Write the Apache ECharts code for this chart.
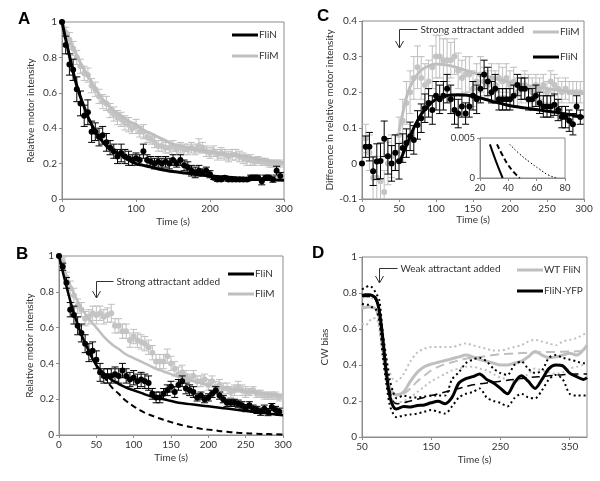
<!DOCTYPE html>
<html><head><meta charset="utf-8">
<script src="https://cdn.jsdelivr.net/npm/echarts@6/dist/echarts.min.js"></script>
<style>html,body{margin:0;padding:0;background:#fff}#c{width:600px;height:481px}</style>
</head><body><div id="c"></div>
<script>
// ---------- time grids ----------
const T5 = [0,5,10,15,20,25,30,35,40,45,50,55,60,65,70,75,80,85,90,95,
  100,105,110,115,120,125,130,135,140,145,150,155,160,165,170,175,180,185,190,195,
  200,205,210,215,220,225,230,235,240,245,250,255,260,265,270,275,280,285,290,295];
const T10 = [0,10,20,30,40,50,60,70,80,90,100,110,120,130,140,150,160,170,180,190,
  200,210,220,230,240,250,260,270,280,290,300];

// ---------- Panel A ----------
const A_FliN = [1.00,0.87,0.76,0.73,0.62,0.54,0.47,0.49,0.38,0.38,
  0.35,0.36,0.32,0.29,0.27,0.24,0.26,0.24,0.23,0.22,
  0.23,0.22,0.27,0.22,0.21,0.20,0.21,0.20,0.21,0.20,
  0.22,0.20,0.22,0.19,0.18,0.16,0.15,0.16,0.15,0.16,
  0.14,0.12,0.11,0.11,0.12,0.11,0.11,0.11,0.11,0.11,
  0.11,0.12,0.12,0.12,0.10,0.12,0.12,0.11,0.16,0.13];
const A_FliN_err = [0,0.05,0.06,0.06,0.07,0.07,0.06,0.07,0.06,0.05,
  0.05,0.05,0.05,0.04,0.04,0.04,0.05,0.04,0.04,0.03,
  0.03,0.03,0.04,0.03,0.03,0.03,0.03,0.03,0.03,0.03,
  0.03,0.02,0.03,0.03,0.03,0.03,0.03,0.03,0.02,0.02,
  0.02,0.01,0.01,0.01,0.01,0.01,0.01,0.01,0.01,0.01,
  0.01,0.015,0.015,0.015,0.02,0.015,0.015,0.015,0.025,0.02];
const A_FliM = [1.00,0.94,0.90,0.85,0.80,0.75,0.71,0.70,0.64,0.62,
  0.58,0.55,0.54,0.50,0.48,0.46,0.45,0.43,0.42,0.40,
  0.41,0.38,0.38,0.35,0.34,0.32,0.30,0.30,0.29,0.29,
  0.30,0.28,0.29,0.28,0.28,0.29,0.28,0.30,0.29,0.27,
  0.26,0.27,0.25,0.26,0.25,0.24,0.25,0.25,0.24,0.23,
  0.22,0.22,0.21,0.22,0.21,0.21,0.20,0.20,0.20,0.20];
const A_FliM_err = [0,0.03,0.04,0.04,0.04,0.04,0.04,0.04,0.04,0.04,
  0.04,0.04,0.04,0.04,0.04,0.04,0.04,0.04,0.04,0.03,
  0.04,0.03,0.04,0.03,0.03,0.03,0.03,0.03,0.03,0.03,
  0.03,0.03,0.03,0.03,0.03,0.03,0.03,0.04,0.03,0.03,
  0.03,0.03,0.03,0.03,0.03,0.03,0.03,0.03,0.03,0.03,
  0.03,0.03,0.02,0.02,0.02,0.02,0.02,0.02,0.02,0.02];
const A_fitN = [1.00,0.81,0.64,0.52,0.42,0.35,0.30,0.27,0.25,0.22,0.20,
  0.19,0.18,0.17,0.162,0.155,0.15,0.145,0.14,0.135,0.13,
  0.127,0.124,0.121,0.118,0.116,0.114,0.112,0.11,0.108,0.106];
const A_fitM = [1.00,0.90,0.81,0.73,0.66,0.59,0.54,0.50,0.47,0.44,0.42,
  0.39,0.37,0.35,0.33,0.31,0.30,0.29,0.28,0.27,0.265,
  0.26,0.255,0.25,0.245,0.24,0.23,0.225,0.215,0.21,0.205];

// ---------- Panel B ----------
const B_FliN = [1.00,0.94,0.85,0.70,0.67,0.61,0.57,0.51,0.46,0.47,
  0.42,0.35,0.33,0.33,0.33,0.34,0.33,0.36,0.33,0.31,
  0.32,0.30,0.31,0.30,0.29,0.23,0.21,0.21,0.23,0.25,
  0.27,0.24,0.28,0.30,0.26,0.25,0.24,0.21,0.22,0.20,
  0.21,0.23,0.25,0.22,0.20,0.18,0.18,0.18,0.175,0.166,
  0.15,0.166,0.147,0.14,0.13,0.147,0.128,0.156,0.14,0.13];
const B_FliN_err = [0,0.02,0.03,0.04,0.05,0.05,0.05,0.05,0.05,0.05,
  0.05,0.05,0.04,0.04,0.04,0.04,0.04,0.04,0.04,0.04,
  0.04,0.04,0.04,0.04,0.04,0.03,0.03,0.03,0.03,0.03,
  0.03,0.03,0.03,0.03,0.03,0.03,0.03,0.02,0.02,0.02,
  0.02,0.02,0.02,0.02,0.02,0.02,0.02,0.02,0.02,0.02,
  0.02,0.02,0.02,0.02,0.02,0.02,0.02,0.02,0.02,0.02];
const B_FliM = [1.00,0.97,0.88,0.82,0.78,0.72,0.70,0.65,0.66,0.68,
  0.67,0.68,0.66,0.67,0.68,0.61,0.61,0.58,0.58,0.53,
  0.55,0.53,0.52,0.51,0.49,0.46,0.41,0.41,0.41,0.44,
  0.40,0.37,0.34,0.35,0.33,0.31,0.33,0.30,0.30,0.31,
  0.28,0.30,0.27,0.28,0.26,0.26,0.24,0.25,0.27,0.25,
  0.24,0.24,0.25,0.23,0.23,0.22,0.22,0.22,0.22,0.21];
const B_FliM_err = [0,0.02,0.03,0.04,0.04,0.04,0.04,0.04,0.04,0.04,
  0.05,0.04,0.04,0.04,0.05,0.04,0.04,0.04,0.04,0.04,
  0.04,0.04,0.04,0.04,0.04,0.04,0.04,0.04,0.04,0.04,
  0.04,0.04,0.04,0.04,0.03,0.03,0.03,0.03,0.03,0.03,
  0.03,0.03,0.03,0.03,0.03,0.03,0.03,0.03,0.03,0.03,
  0.03,0.02,0.02,0.02,0.02,0.02,0.02,0.02,0.02,0.02];
const B_fitN = [1.00,0.83,0.68,0.56,0.47,0.39,0.345,0.31,0.285,0.265,0.25,
  0.235,0.22,0.21,0.20,0.19,0.18,0.175,0.17,0.165,0.16,
  0.155,0.15,0.145,0.14,0.135,0.13,0.125,0.12,0.115,0.11];
const B_dashT = [60,70,80,90,100,110,120,130,140,150,160,170,180,190,200,210,220,230,240,250,260,270,280,290,300];
const B_dashN = [0.33,0.27,0.23,0.19,0.16,0.135,0.115,0.10,0.085,0.072,0.06,0.05,0.042,0.035,0.03,
  0.025,0.02,0.016,0.012,0.01,0.008,0.006,0.005,0.004,0.003];
const B_fitM = [1.00,0.89,0.79,0.71,0.65,0.60,0.55,0.51,0.48,0.45,0.43,
  0.41,0.39,0.37,0.355,0.34,0.325,0.31,0.30,0.29,0.28,
  0.27,0.265,0.26,0.25,0.245,0.24,0.235,0.23,0.225,0.22];

// ---------- Panel C ----------
const C_FliM = [0.00,0.07,0.03,-0.04,-0.04,-0.05,-0.08,0.00,0.02,0.03,
  0.08,0.12,0.17,0.20,0.24,0.27,0.24,0.22,0.23,0.27,
  0.30,0.30,0.29,0.29,0.29,0.30,0.26,0.24,0.25,0.25,
  0.21,0.23,0.25,0.23,0.22,0.24,0.22,0.24,0.23,0.24,
  0.22,0.23,0.20,0.21,0.22,0.21,0.20,0.22,0.21,0.22,
  0.20,0.23,0.22,0.21,0.20,0.21,0.20,0.20,0.20,0.20];
const C_FliM_err = [0,0.04,0.05,0.06,0.06,0.06,0.06,0.06,0.06,0.05,
  0.05,0.06,0.06,0.06,0.06,0.06,0.06,0.06,0.06,0.06,
  0.06,0.06,0.06,0.06,0.05,0.05,0.05,0.05,0.05,0.05,
  0.05,0.05,0.05,0.04,0.04,0.04,0.04,0.04,0.04,0.04,
  0.04,0.04,0.04,0.04,0.04,0.04,0.04,0.03,0.03,0.03,
  0.03,0.03,0.03,0.03,0.03,0.03,0.03,0.03,0.03,0.03];
const C_FliN = [0.00,0.047,0.047,-0.022,0.005,0.007,0.069,0.02,0.00,0.03,
  0.006,0.043,0.057,0.076,0.066,0.108,0.127,0.155,0.17,0.15,
  0.19,0.18,0.19,0.21,0.18,0.15,0.14,0.16,0.14,0.16,
  0.19,0.18,0.21,0.25,0.23,0.20,0.21,0.18,0.18,0.18,
  0.18,0.19,0.22,0.21,0.21,0.18,0.18,0.19,0.17,0.16,
  0.16,0.16,0.165,0.15,0.13,0.13,0.12,0.11,0.16,0.13];
const C_FliN_err = [0,0.03,0.04,0.04,0.05,0.05,0.05,0.05,0.05,0.05,
  0.05,0.04,0.04,0.04,0.04,0.04,0.04,0.04,0.04,0.04,
  0.04,0.04,0.04,0.04,0.04,0.04,0.04,0.03,0.03,0.03,
  0.04,0.04,0.04,0.04,0.04,0.03,0.04,0.03,0.03,0.03,
  0.03,0.03,0.03,0.03,0.03,0.03,0.03,0.03,0.03,0.03,
  0.03,0.03,0.03,0.03,0.03,0.03,0.03,0.03,0.03,0.02];
const C_fitT = [50,55,60,65,70,75,80,90,100,110,120,130,140,150,160,170,180,190,200,220,240,260,280,300];
const C_fitM = [0.09,0.14,0.185,0.215,0.235,0.25,0.262,0.274,0.279,0.278,0.274,0.268,
  0.261,0.255,0.249,0.243,0.238,0.233,0.228,0.22,0.213,0.207,0.201,0.196];
const C_fitN = [0.00,0.025,0.05,0.075,0.10,0.12,0.138,0.163,0.18,0.188,0.192,0.193,
  0.192,0.19,0.184,0.178,0.172,0.167,0.162,0.156,0.15,0.144,0.137,0.13];
// inset
const I_solidT = [27,30,33,36];
const I_solid = [0.0042,0.0027,0.0013,0];
const I_dashT = [32,36,40,44,48];
const I_dash = [0.0042,0.0028,0.0016,0.0007,0];
const I_dotT = [41,48,55,62,68,74];
const I_dot = [0.0042,0.003,0.002,0.0011,0.0004,0];

// ---------- Panel D ----------
const D_T = [50,55,60,65,70,75,80,85,90,95,100,
  110,120,130,140,150,160,170,180,190,200,
  210,220,230,240,250,260,270,280,290,300,
  310,320,330,340,350,360,370,375];
const D_yfp = [0.785,0.79,0.79,0.785,0.77,0.70,0.55,0.36,0.23,0.17,0.155,
  0.17,0.167,0.175,0.178,0.19,0.198,0.185,0.22,0.30,0.324,
  0.335,0.35,0.32,0.30,0.27,0.24,0.30,0.34,0.31,0.27,
  0.32,0.38,0.40,0.395,0.355,0.335,0.32,0.33];
const D_yfpHi = [0.82,0.83,0.84,0.83,0.80,0.76,0.58,0.44,0.32,0.25,0.215,
  0.23,0.22,0.22,0.225,0.23,0.23,0.23,0.32,0.36,0.41,
  0.43,0.44,0.42,0.38,0.355,0.345,0.40,0.42,0.38,0.355,
  0.37,0.44,0.455,0.44,0.43,0.42,0.41,0.41];
const D_yfpLo = [0.74,0.735,0.735,0.72,0.71,0.64,0.45,0.30,0.18,0.13,0.11,
  0.12,0.125,0.13,0.14,0.15,0.14,0.13,0.17,0.22,0.24,
  0.25,0.27,0.22,0.20,0.19,0.17,0.215,0.24,0.22,0.215,
  0.26,0.32,0.345,0.32,0.24,0.23,0.23,0.23];
const D_yfpFit = [0.78,0.78,0.78,0.775,0.76,0.70,0.52,0.37,0.26,0.20,0.185,
  0.19,0.20,0.21,0.22,0.23,0.24,0.25,0.26,0.27,0.28,
  0.29,0.295,0.30,0.305,0.31,0.315,0.32,0.325,0.33,0.333,
  0.336,0.34,0.343,0.346,0.348,0.35,0.35,0.35];
const D_wt = [0.715,0.72,0.725,0.72,0.71,0.66,0.50,0.37,0.28,0.24,0.235,
  0.25,0.31,0.36,0.39,0.405,0.415,0.425,0.435,0.445,0.455,
  0.445,0.43,0.42,0.41,0.40,0.40,0.41,0.42,0.445,0.475,
  0.455,0.44,0.445,0.455,0.465,0.455,0.485,0.51];
const D_wtFit = [0.72,0.72,0.72,0.72,0.71,0.66,0.50,0.37,0.28,0.24,0.23,
  0.24,0.27,0.31,0.34,0.37,0.39,0.405,0.415,0.425,0.435,
  0.44,0.445,0.45,0.455,0.46,0.462,0.464,0.466,0.468,0.47,
  0.471,0.472,0.473,0.474,0.475,0.476,0.477,0.478];
const D_wtHi = [0.77,0.78,0.78,0.77,0.76,0.72,0.58,0.45,0.36,0.32,0.31,
  0.35,0.42,0.47,0.49,0.50,0.50,0.50,0.50,0.51,0.52,
  0.51,0.50,0.49,0.48,0.48,0.49,0.50,0.51,0.53,0.54,
  0.53,0.52,0.51,0.53,0.54,0.55,0.57,0.58];
const D_wtLo = [0.63,0.62,0.64,0.66,0.66,0.60,0.45,0.32,0.24,0.20,0.19,
  0.20,0.22,0.25,0.28,0.31,0.33,0.35,0.37,0.38,0.39,
  0.39,0.38,0.37,0.35,0.33,0.32,0.31,0.32,0.35,0.38,
  0.37,0.36,0.35,0.36,0.38,0.39,0.40,0.40];

// ---------- helpers ----------
const FONT = 'Lato, "Liberation Sans", sans-serif';
const GRAY = '#bfbfbf';
const BLACK = '#000000';
const TXT = '#333333';
const AX = '#8c8c8c';
const pairs = (xs, ys) => xs.map((x, i) => [x, ys[i]]);

function errBars(gi, xs, ys, es, color, z) {
  return {
    type: 'custom', xAxisIndex: gi, yAxisIndex: gi, z, silent: true, clip: true,
    encode: { x: 0, y: [1, 2] },
    data: xs.map((x, i) => [x, ys[i] - es[i], ys[i] + es[i]]),
    renderItem: (params, api) => {
      const lo = api.coord([api.value(0), api.value(1)]);
      const hi = api.coord([api.value(0), api.value(2)]);
      if (Math.abs(lo[1] - hi[1]) < 0.5) return null;
      const w = 3.5, st = { stroke: color, lineWidth: 1 };
      return { type: 'group', children: [
        { type: 'line', shape: { x1: lo[0], y1: lo[1], x2: hi[0], y2: hi[1] }, style: st },
        { type: 'line', shape: { x1: lo[0] - w, y1: lo[1], x2: lo[0] + w, y2: lo[1] }, style: st },
        { type: 'line', shape: { x1: hi[0] - w, y1: hi[1], x2: hi[0] + w, y2: hi[1] }, style: st }
      ]};
    }
  };
}
function dots(gi, xs, ys, color, z) {
  return { type: 'scatter', xAxisIndex: gi, yAxisIndex: gi, data: pairs(xs, ys),
    symbolSize: 6, itemStyle: { color, opacity: 1 }, z, silent: true };
}
function curve(gi, xs, ys, color, width, dash, smooth, z) {
  return { type: 'line', xAxisIndex: gi, yAxisIndex: gi, data: pairs(xs, ys),
    showSymbol: false, symbol: 'none', smooth: smooth, silent: true, z,
    lineStyle: { color, width, type: dash || 'solid', cap: 'butt' } };
}
function xAx(gi, min, max, interval, name, gap, fs, noMax) {
  return { gridIndex: gi, type: 'value', min, max, interval, name: name || '',
    nameLocation: 'middle', nameGap: gap || 18,
    nameTextStyle: { fontSize: 10, color: TXT, fontFamily: FONT },
    axisLine: { show: true, onZero: false, lineStyle: { color: AX } },
    axisTick: { show: true, length: 3, lineStyle: { color: AX } },
    axisLabel: { fontSize: fs || 10, color: TXT, margin: 5, fontFamily: FONT, showMaxLabel: noMax ? false : null },
    splitLine: { show: false } };
}
function yAx(gi, min, max, interval, name, gap, fs) {
  return { gridIndex: gi, type: 'value', min, max, interval, name: name || '',
    nameLocation: 'middle', nameGap: gap || 26, nameRotate: 90,
    nameTextStyle: { fontSize: 10, color: TXT, fontFamily: FONT },
    axisLine: { show: true, onZero: false, lineStyle: { color: AX } },
    axisTick: { show: true, length: 3, lineStyle: { color: AX } },
    axisLabel: { fontSize: fs || 10, color: TXT, margin: 5, fontFamily: FONT },
    splitLine: { show: false } };
}
const gridBase = { show: true, borderColor: AX, borderWidth: 1, containLabel: false };

const option = {
  animation: false,
  backgroundColor: '#ffffff',
  grid: [
    Object.assign({ left: 62, top: 22, width: 222, height: 177 }, gridBase),
    Object.assign({ left: 59, top: 256, width: 224, height: 179 }, gridBase),
    Object.assign({ left: 362, top: 21, width: 222, height: 178 }, gridBase),
    Object.assign({ left: 362, top: 257, width: 225, height: 180 }, gridBase),
    Object.assign({ left: 480, top: 138, width: 85, height: 40 }, gridBase)
  ],
  xAxis: [
    xAx(0, 0, 300, 100, 'Time (s)', 18),
    xAx(1, 0, 300, 50, 'Time (s)', 18),
    xAx(2, 0, 300, 50, 'Time (s)', 14),
    xAx(3, 50, 375, 100, 'Time (s)', 18, 10, true),
    xAx(4, 20, 80, 20, '', 0, 9.5)
  ],
  yAxis: [
    yAx(0, 0, 1, 0.2, 'Relative motor intensity', 26),
    yAx(1, 0, 1, 0.2, 'Relative motor intensity', 24),
    yAx(2, -0.1, 0.4, 0.1, 'Difference in relative motor intensity', 27),
    yAx(3, 0, 1, 0.2, 'CW bias', 32),
    yAx(4, 0, 0.005, 0.005, '', 0, 9.5)
  ],
  series: [
    // A
    errBars(0, T5, A_FliM, A_FliM_err, GRAY, 2),
    dots(0, T5, A_FliM, '#c4c4c4', 3),
    curve(0, T10, A_fitM, GRAY, 3, 'solid', true, 4),
    errBars(0, T5, A_FliN, A_FliN_err, BLACK, 5),
    dots(0, T5, A_FliN, BLACK, 6),
    curve(0, T10, A_fitN, BLACK, 3, 'solid', true, 7),
    // B
    errBars(1, T5, B_FliM, B_FliM_err, GRAY, 2),
    dots(1, T5, B_FliM, '#c4c4c4', 3),
    curve(1, T10, B_fitM, GRAY, 2.5, 'solid', true, 4),
    errBars(1, T5, B_FliN, B_FliN_err, BLACK, 5),
    dots(1, T5, B_FliN, BLACK, 6),
    curve(1, B_dashT, B_dashN, BLACK, 2, [6, 4], true, 7),
    curve(1, T10, B_fitN, BLACK, 2.5, 'solid', true, 7),
    // C
    errBars(2, T5, C_FliM, C_FliM_err, GRAY, 2),
    dots(2, T5, C_FliM, '#c4c4c4', 3),
    curve(2, C_fitT, C_fitM, GRAY, 3, 'solid', 0.3, 4),
    errBars(2, T5, C_FliN, C_FliN_err, BLACK, 5),
    dots(2, T5, C_FliN, BLACK, 6),
    curve(2, C_fitT, C_fitN, BLACK, 3, 'solid', 0.3, 7),
    // inset
    curve(4, I_solidT, I_solid, BLACK, 2, 'solid', true, 5),
    curve(4, I_dashT, I_dash, BLACK, 2, [5, 3], true, 5),
    curve(4, I_dotT, I_dot, BLACK, 1, [1.5, 2], true, 5),
    // D
    curve(3, D_T, D_wtHi, GRAY, 2, [2, 3], 0.3, 2),
    curve(3, D_T, D_wtLo, GRAY, 2, [2, 3], 0.3, 2),
    curve(3, D_T, D_wtFit, GRAY, 2, [9, 5], 0.3, 3),
    curve(3, D_T, D_wt, GRAY, 3, 'solid', 0.3, 4),
    curve(3, D_T, D_yfpHi, BLACK, 2, [2, 3], 0.3, 5),
    curve(3, D_T, D_yfpLo, BLACK, 2, [2, 3], 0.3, 5),
    curve(3, D_T, D_yfpFit, BLACK, 1.5, [8, 5], 0.3, 6),
    curve(3, D_T, D_yfp, BLACK, 3, 'solid', 0.3, 7)
  ]
};

const chart = echarts.init(document.getElementById('c'), null, { renderer: 'canvas' });
chart.setOption(option);

// ---------- legends, panel letters, annotations ----------
const legends = [
  { x: 232, y: 35, gap: 21, items: [['FliN', BLACK], ['FliM', GRAY]] },
  { x: 228, y: 274, gap: 20, items: [['FliN', BLACK], ['FliM', GRAY]] },
  { x: 533, y: 32, gap: 25, items: [['FliM', GRAY], ['FliN', BLACK]] },
  { x: 517, y: 270, gap: 21, items: [['WT FliN', GRAY], ['FliN-YFP', BLACK]] }
];
const letters = [['A', 18, 11], ['B', 16, 246], ['C', 317, 8], ['D', 312, 245]];
const notes = [
  { gi: 1, t: 50, top: 0.86, tip: 0.765, text: 'Strong attractant added', len: 17 },
  { gi: 2, t: 50, top: 0.377, tip: 0.323, text: 'Strong attractant added', len: 18 },
  { gi: 3, t: 75, top: 0.94, tip: 0.855, text: 'Weak attractant added', len: 18 }
];
const g = [];
legends.forEach(L => {
  L.items.forEach((it, k) => {
    const y = L.y + k * L.gap;
    g.push({ type: 'line', shape: { x1: L.x, y1: y, x2: L.x + 26, y2: y },
      style: { stroke: it[1], lineWidth: 3 }, z: 100 });
    g.push({ type: 'text', x: L.x + 27, y: y, z: 100,
      style: { text: it[0], fill: TXT, font: '10px ' + FONT, verticalAlign: 'middle', align: 'left' } });
  });
});
letters.forEach(l => {
  g.push({ type: 'text', x: l[1], y: l[2], z: 100,
    style: { text: l[0], fill: '#000', font: 'bold 17px "Liberation Sans", Arial, sans-serif' } });
});
notes.forEach(n => {
  const p1 = chart.convertToPixel({ gridIndex: n.gi }, [n.t, n.top]);
  const p2 = chart.convertToPixel({ gridIndex: n.gi }, [n.t, n.tip]);
  const x = Math.round(p1[0]) + 0.5, y1 = Math.round(p1[1]) + 0.5, y2 = Math.round(p2[1]);
  g.push({ type: 'polyline', shape: { points: [[x + n.len, y1], [x, y1], [x, y2]] },
    style: { stroke: '#333', lineWidth: 1, fill: null }, z: 100 });
  g.push({ type: 'polyline', shape: { points: [[x - 4, y2 - 7], [x, y2], [x + 4, y2 - 7]] },
    style: { stroke: '#333', lineWidth: 1, fill: null }, z: 100 });
  g.push({ type: 'text', x: x + n.len + 3, y: y1, z: 100,
    style: { text: n.text, fill: TXT, font: '10px ' + FONT, verticalAlign: 'middle', align: 'left' } });
});
chart.setOption({ graphic: g });
</script>
</body></html>
